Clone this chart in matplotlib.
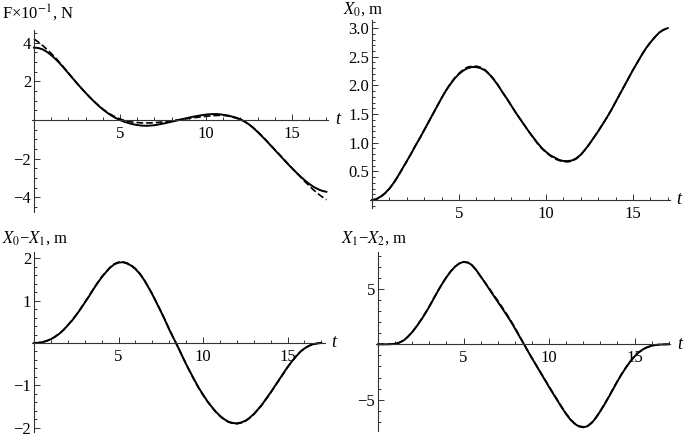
import matplotlib
matplotlib.use("Agg")
import matplotlib.pyplot as plt
from matplotlib.ticker import FixedLocator, MultipleLocator, FormatStrFormatter

plt.rcParams['font.family'] = ['Liberation Serif', 'DejaVu Serif']
plt.rcParams['mathtext.fontset'] = 'stix'

# time grid (s), step 0.25 from 0 to 17
t = [i * 0.25 for i in range(69)]

# force F x 10^-1, N
force_solid = [3.75, 3.73, 3.66, 3.53, 3.36, 3.16, 2.93, 2.68, 2.42, 2.16,
               1.9, 1.65, 1.41, 1.17, 0.95, 0.74, 0.55, 0.38, 0.23, 0.1,
               0.0, -0.09, -0.16, -0.22, -0.26, -0.29, -0.3, -0.29, -0.27, -0.23,
               -0.19, -0.14, -0.09, -0.04, 0.02, 0.07, 0.12, 0.17, 0.21, 0.25,
               0.28, 0.3, 0.31, 0.3, 0.27, 0.24, 0.18, 0.12, 0.04, -0.08,
               -0.23, -0.41, -0.62, -0.84, -1.07, -1.31, -1.55, -1.79, -2.03, -2.27,
               -2.5, -2.72, -2.93, -3.13, -3.31, -3.46, -3.58, -3.67, -3.72]
force_dash = [4.2, 4.04, 3.86, 3.66, 3.45, 3.22, 2.97, 2.71, 2.44, 2.17,
              1.9, 1.65, 1.41, 1.18, 0.96, 0.76, 0.57, 0.41, 0.27, 0.15,
              0.05, -0.02, -0.07, -0.11, -0.13, -0.15, -0.15, -0.15, -0.14, -0.12,
              -0.1, -0.07, -0.04, -0.01, 0.02, 0.05, 0.08, 0.11, 0.14, 0.17,
              0.19, 0.21, 0.23, 0.24, 0.24, 0.21, 0.16, 0.1, 0.02, -0.09,
              -0.23, -0.4, -0.6, -0.82, -1.05, -1.29, -1.53, -1.77, -2.01, -2.25,
              -2.49, -2.73, -2.96, -3.19, -3.41, -3.62, -3.81, -3.98, -4.13]

# X0, m
x0_solid = [0.0, 0.015, 0.06, 0.12, 0.2, 0.3, 0.42, 0.55, 0.68, 0.81,
            0.95, 1.08, 1.22, 1.36, 1.5, 1.64, 1.78, 1.91, 2.02, 2.12,
            2.2, 2.26, 2.3, 2.32, 2.32, 2.3, 2.26, 2.19, 2.1, 2.0,
            1.88, 1.77, 1.65, 1.53, 1.42, 1.31, 1.2, 1.1, 1.0, 0.91,
            0.84, 0.78, 0.74, 0.7, 0.68, 0.68, 0.69, 0.73, 0.79, 0.88,
            0.98, 1.09, 1.2, 1.32, 1.44, 1.57, 1.71, 1.85, 1.99, 2.13,
            2.27, 2.4, 2.53, 2.65, 2.75, 2.84, 2.92, 2.97, 3.0]
x0_dash = [0.0, 0.013, 0.055, 0.115, 0.195, 0.295, 0.415, 0.545, 0.675, 0.81,
           0.95, 1.08, 1.22, 1.36, 1.5, 1.64, 1.78, 1.91, 2.03, 2.13,
           2.21, 2.28, 2.32, 2.335, 2.335, 2.315, 2.27, 2.2, 2.11, 2.0,
           1.88, 1.77, 1.65, 1.53, 1.42, 1.31, 1.2, 1.09, 0.99, 0.9,
           0.83, 0.77, 0.72, 0.69, 0.67, 0.665, 0.68, 0.72, 0.79, 0.88,
           0.98, 1.09, 1.2, 1.32, 1.44, 1.57, 1.71, 1.85, 1.99, 2.13,
           2.27, 2.4, 2.53, 2.65, 2.75, 2.84, 2.92, 2.97, 3.0]

# X0 - X1, m
x01_solid = [0.0, 0.005, 0.02, 0.05, 0.09, 0.15, 0.22, 0.31, 0.42, 0.53,
             0.66, 0.8, 0.95, 1.1, 1.26, 1.41, 1.55, 1.67, 1.78, 1.86,
             1.9, 1.91, 1.88, 1.83, 1.75, 1.64, 1.5, 1.33, 1.15, 0.95,
             0.75, 0.54, 0.32, 0.12, -0.08, -0.29, -0.5, -0.69, -0.88, -1.06,
             -1.22, -1.37, -1.5, -1.62, -1.72, -1.8, -1.86, -1.89, -1.9, -1.88,
             -1.84, -1.77, -1.68, -1.57, -1.45, -1.31, -1.17, -1.02, -0.87, -0.72,
             -0.57, -0.44, -0.32, -0.21, -0.13, -0.07, -0.03, -0.01, 0.0]
x01_dash = [0.0, 0.005, 0.02, 0.05, 0.09, 0.15, 0.22, 0.31, 0.42, 0.54,
            0.67, 0.81, 0.96, 1.11, 1.27, 1.42, 1.56, 1.68, 1.79, 1.87,
            1.91, 1.92, 1.89, 1.84, 1.76, 1.65, 1.51, 1.34, 1.16, 0.96,
            0.76, 0.55, 0.33, 0.12, -0.08, -0.29, -0.5, -0.7, -0.89, -1.07,
            -1.23, -1.38, -1.51, -1.63, -1.73, -1.81, -1.87, -1.9, -1.91, -1.89,
            -1.85, -1.78, -1.69, -1.58, -1.46, -1.32, -1.18, -1.03, -0.88, -0.73,
            -0.58, -0.44, -0.32, -0.21, -0.13, -0.07, -0.03, -0.01, 0.0]

# X1 - X2, m
x12_solid = [0.0, 0.0, 0.0, 0.01, 0.05, 0.15, 0.35, 0.68, 1.1, 1.6,
             2.15, 2.75, 3.4, 4.1, 4.8, 5.45, 6.05, 6.58, 7.0, 7.3,
             7.45, 7.4, 7.15, 6.7, 6.15, 5.58, 5.0, 4.42, 3.85, 3.28,
             2.7, 2.1, 1.45, 0.78, 0.1, -0.58, -1.25, -1.9, -2.55, -3.2,
             -3.85, -4.48, -5.1, -5.72, -6.3, -6.8, -7.18, -7.42, -7.5, -7.4,
             -7.1, -6.63, -6.05, -5.42, -4.75, -4.05, -3.35, -2.7, -2.1, -1.57,
             -1.1, -0.73, -0.45, -0.26, -0.13, -0.06, -0.02, -0.01, 0.0]
x12_dash = [0.0, 0.0, 0.0, 0.01, 0.05, 0.16, 0.36, 0.7, 1.12, 1.62,
            2.18, 2.78, 3.43, 4.13, 4.83, 5.48, 6.08, 6.6, 7.02, 7.3,
            7.43, 7.37, 7.12, 6.68, 6.12, 5.6, 5.06, 4.5, 3.95, 3.38,
            2.8, 2.18, 1.52, 0.82, 0.12, -0.56, -1.22, -1.87, -2.51, -3.16,
            -3.8, -4.43, -5.05, -5.67, -6.25, -6.76, -7.14, -7.38, -7.46, -7.37,
            -7.07, -6.6, -6.02, -5.39, -4.72, -4.02, -3.32, -2.67, -2.08, -1.55,
            -1.09, -0.72, -0.45, -0.26, -0.13, -0.06, -0.02, -0.01, 0.0]

W, H = 685, 437
fig = plt.figure(figsize=(W / 100, H / 100), dpi=100)


def make_axes(x0px, xscale, y0px, yscale, xlim, ylim):
    # place an axes so that data (0, 0) lands on pixel (x0px, y0px)
    left = x0px + xlim[0] * xscale
    width = (xlim[1] - xlim[0]) * xscale
    top = y0px - ylim[1] * yscale
    height = (ylim[1] - ylim[0]) * yscale
    ax = fig.add_axes([left / W, 1 - (top + height) / H, width / W, height / H])
    ax.set_xlim(*xlim)
    ax.set_ylim(*ylim)
    return ax


def style(ax, yticks, yminor, yfmt=None):
    ax.patch.set_visible(False)
    for s in ['top', 'right']:
        ax.spines[s].set_visible(False)
    for s in ['left', 'bottom']:
        ax.spines[s].set_position(('data', 0))
        ax.spines[s].set_linewidth(0.8)
        ax.spines[s].set_color('#333333')
    ax.xaxis.set_major_locator(FixedLocator([5, 10, 15]))
    ax.xaxis.set_minor_locator(MultipleLocator(1))
    ax.yaxis.set_major_locator(FixedLocator(yticks))
    ax.yaxis.set_minor_locator(MultipleLocator(yminor))
    if yfmt:
        ax.yaxis.set_major_formatter(FormatStrFormatter(yfmt))
    ax.tick_params(which='both', direction='in', width=0.7, color='#333333',
                   labelsize=12)
    ax.tick_params(which='major', length=4)
    ax.tick_params(which='minor', length=2.3)
    ax.tick_params(axis='x', pad=4)
    ax.tick_params(axis='y', pad=2)
    ax.annotate('t', xy=(1, 0), xycoords=ax.get_yaxis_transform(),
                xytext=(5, 0), textcoords='offset points',
                ha='left', va='center', fontsize=13, style='italic')


def draw(ax, solid, dash):
    ax.plot(t, solid, color='black', lw=1.4, clip_on=False)
    ax.plot(t, dash, color='black', lw=1.2, dashes=(4, 1.8), clip_on=False)


ax1 = make_axes(34, 17.2, 120, 19.3, (-0.1, 17.1), (-4.75, 4.66))
draw(ax1, force_solid, force_dash)
style(ax1, [-4, -2, 2, 4], 0.5)

ax2 = make_axes(372, 17.4, 200, 57.3, (-0.1, 17.1), (-0.14, 3.14))
draw(ax2, x0_solid, x0_dash)
style(ax2, [0.5, 1.0, 1.5, 2.0, 2.5, 3.0], 0.1, '%.1f')

ax3 = make_axes(34, 16.9, 343, 42.3, (-0.1, 17.2), (-2.1, 2.15))
draw(ax3, x01_solid, x01_dash)
style(ax3, [-2, -1, 1, 2], 0.2)

ax4 = make_axes(378, 17.1, 344.3, 11.07, (-0.1, 17.1), (-7.85, 8.36))
draw(ax4, x12_solid, x12_dash)
style(ax4, [-5, 5], 1)

fig.text(2 / W, 1 - 13 / H, 'F\u00d710$^{-1}$, N', fontsize=12, va='center', ha='left')
fig.text(343 / W, 1 - 9 / H, '$X_0$, m', fontsize=12, va='center', ha='left')
fig.text(2 / W, 1 - 238 / H, '$X_0$\u2212$X_1$, m', fontsize=12, va='center', ha='left')
fig.text(341 / W, 1 - 238 / H, '$X_1$\u2212$X_2$, m', fontsize=12, va='center', ha='left')

fig.savefig('out.png', dpi=100)
